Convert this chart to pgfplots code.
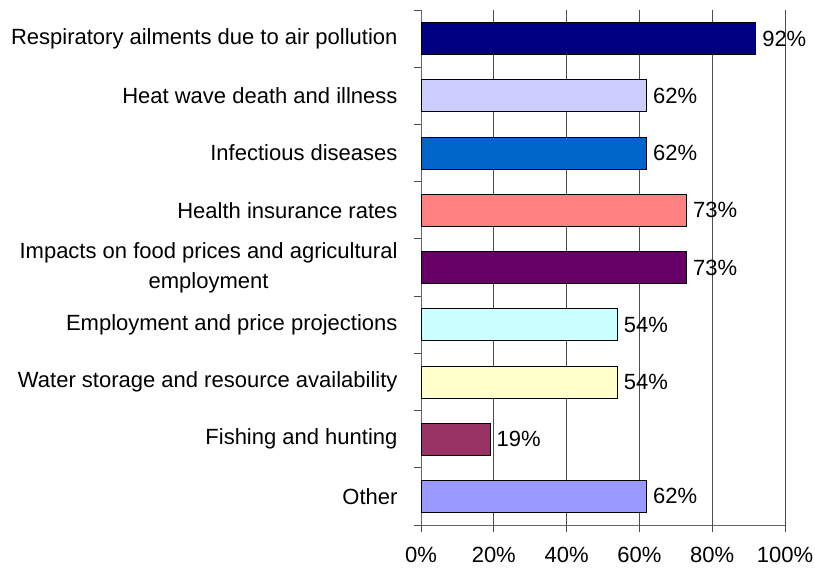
\documentclass[border=0pt]{standalone}
\usepackage{pgfplots}
\pgfplotsset{compat=1.18}
\usepackage{fontspec}
\setmainfont{Liberation Sans}
\usetikzlibrary{calc}
\definecolor{c1}{HTML}{000080}
\definecolor{c2}{HTML}{CCCCFF}
\definecolor{c3}{HTML}{0066CC}
\definecolor{c4}{HTML}{FF8080}
\definecolor{c5}{HTML}{660066}
\definecolor{c6}{HTML}{CCFFFF}
\definecolor{c7}{HTML}{FFFFCC}
\definecolor{c8}{HTML}{993366}
\definecolor{c9}{HTML}{9999FF}
\begin{document}
\begin{tikzpicture}
\begin{axis}[
  scale only axis,
  width=364pt, height=515pt,
  xmin=0, xmax=100, ymin=-0.5, ymax=8.5,
  y dir=reverse,
  axis x line*=bottom, axis y line*=left,
  axis line style={black!60, line width=0.8pt, -},
  xtick={0,20,40,60,80,100},
  xticklabels={0\%,20\%,40\%,60\%,80\%,100\%},
  ytick={0,1,2,3,4,5,6,7,8},
  yticklabels={Respiratory ailments due to air pollution,Heat wave death and illness,Infectious diseases,Health insurance rates,{Impacts on food prices and agricultural\\employment},Employment and price projections,Water storage and resource availability,Fishing and hunting,Other},
  minor ytick={-0.5,0.5,1.5,2.5,3.5,4.5,5.5,6.5,7.5,8.5},
  major tick length=0pt,
  minor tick length=7pt,
  extra x ticks={0,20,40,60,80,100},
  extra x tick labels={},
  extra x tick style={major tick length=7pt, grid=none},
  tick align=outside,
  tick style={black!70, line width=0.8pt},
  xmajorgrids,
  major grid style={black!70, line width=0.8pt},
  ticklabel style={font=\fontsize{22}{30}\selectfont},
  yticklabel style={align=center, xshift=-20pt},
  xticklabel style={yshift=-19pt},
  xbar, bar width=0.56, bar shift=0pt,
  point meta=x,
  nodes near coords={\pgfmathprintnumber[assume math mode=true]{\pgfplotspointmeta}\%},
  nodes near coords style={anchor=west, inner sep=1pt, xshift=5pt, font=\fontsize{22}{30}\selectfont, black},
  every axis plot/.append style={draw=black, line width=0.8pt},
  clip=false,
]
\coordinate (bl) at (rel axis cs:0,0);
\coordinate (tr) at (rel axis cs:1,1);
\addplot[fill=c1] coordinates {(92,0)};
\addplot[fill=c2] coordinates {(62,1)};
\addplot[fill=c3] coordinates {(62,2)};
\addplot[fill=c4] coordinates {(73,3)};
\addplot[fill=c5] coordinates {(73,4)};
\addplot[fill=c6] coordinates {(54,5)};
\addplot[fill=c7] coordinates {(54,6)};
\addplot[fill=c8] coordinates {(19,7)};
\addplot[fill=c9] coordinates {(62,8)};
\end{axis}
\pgfresetboundingbox
\path ($(bl)+(-421pt,-44pt)$) rectangle ($(tr)+(30pt,10pt)$);
\end{tikzpicture}
\end{document}
